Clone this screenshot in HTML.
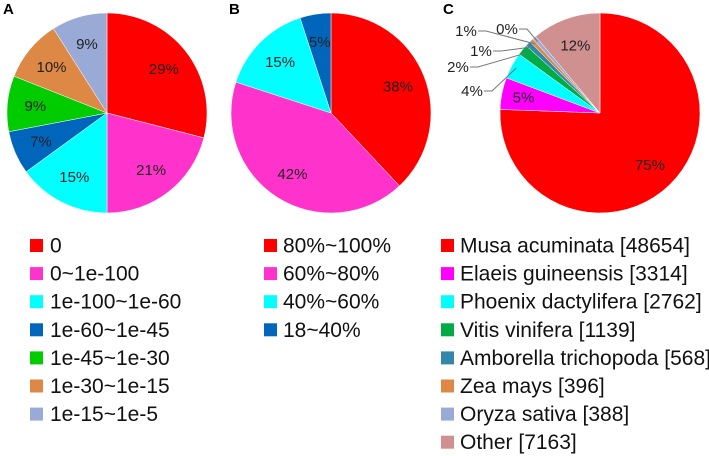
<!DOCTYPE html>
<html><head><meta charset="utf-8">
<style>
body{margin:0;background:#fff;}
svg{display:block;font-family:"Liberation Sans",Arial,sans-serif;}
</style></head>
<body>
<svg id="chart" width="709" height="456" viewBox="0 0 709 456"></svg>
<script>
const catsA=["0","0~1e-100","1e-100~1e-60","1e-60~1e-45","1e-45~1e-30","1e-30~1e-15","1e-15~1e-5"];
const valsA=[29,21,15,7,9,10,9];
const colsA=["#ff0000","#ff33cc","#00ffff","#0066bb","#00cc00","#dd8844","#99aad6"];
const catsB=["80%~100%","60%~80%","40%~60%","18~40%"];
const valsB=[38,42,15,5];
const colsB=["#ff0000","#ff33cc","#00ffff","#0066bb"];
const catsC=["Musa acuminata [48654]","Elaeis guineensis [3314]","Phoenix dactylifera [2762]","Vitis vinifera [1139]","Amborella trichopoda [568]","Zea mays [396]","Oryza sativa [388]","Other [7163]"];
const valsC=[48654,3314,2762,1139,568,396,388,7163];
const labelsC=["75%","5%","4%","2%","1%","1%","0%","12%"];
const colsC=["#ff0000","#ff00ff","#00ffff","#00aa44","#3388aa","#dd8844","#99aad6","#d09090"];
const NS="http://www.w3.org/2000/svg";
const svg=document.getElementById('chart');
function mk(t,a,p){const e=document.createElementNS(NS,t);for(const k in a)e.setAttribute(k,a[k]);(p||svg).appendChild(e);return e;}
function pie(id,vals,cols,cx,cy,r){
  const g=mk('g',{});
  
  
  const tot=vals.reduce((a,b)=>a+b,0);
  let a0=0;const mids=[];
  vals.forEach((v,i)=>{
    const a1=a0+v/tot*2*Math.PI;
    const x0=cx+r*Math.sin(a0),y0=cy-r*Math.cos(a0),x1=cx+r*Math.sin(a1),y1=cy-r*Math.cos(a1);
    const large=(a1-a0)>Math.PI?1:0;
    const p=mk('path',{d:`M${cx},${cy}L${x0},${y0}A${r},${r} 0 ${large} 1 ${x1},${y1}Z`,fill:cols[i],stroke:'#fff','stroke-width':0.5},g);
    
    
    mids.push({m:(a0+a1)/2,pct:Math.round(v/tot*100)});
    a0=a1;
  });
  return mids;
}
function lbl(x,y,t){const e=mk('text',{x:x,y:y,'font-size':15,'text-anchor':'middle',fill:'#222'});e.textContent=t;
  
  return e;}
function pctLabels(mids,cx,cy,r,f){mids.forEach(d=>{lbl(cx+f*r*Math.sin(d.m),cy-f*r*Math.cos(d.m)+5,d.pct+'%');});}
const mA=pie('a',valsA,colsA,107,113,100);pctLabels(mA,107,113,100,0.72);
const mB=pie('b',valsB,colsB,331,113,100);pctLabels(mB,331,113,100,0.72);
const mC=pie('c',valsC,colsC,600,113,100);
[0,1,7].forEach(i=>{const d=mC[i];const f=i===1?0.78:0.72;lbl(600+f*100*Math.sin(d.m),113-f*100*Math.cos(d.m)+5,labelsC[i]);});
const outPos={2:[472,96],3:[458,72],4:[481,56],5:[466,36],6:[507,34]};
[2,3,4,5,6].forEach(i=>{const d=mC[i];const ex=600+100*Math.sin(d.m)*0.95,ey=113-100*Math.cos(d.m)*0.95;
  const [lx,ly]=outPos[i];
  const ln=mk('polyline',{points:`${lx+12},${ly-5} ${lx+20},${ly-5} ${ex},${ey}`,fill:'none',stroke:'#777','stroke-width':1});
  
  
  lbl(lx,ly,labelsC[i]);});
[["A",3],["B",229],["C",443]].forEach(([t,x])=>{const e=mk('text',{x:x,y:14,'font-size':15,'font-weight':'bold'});e.textContent=t;
  
  });
function legend(id,cats,cols,sx,tx){cats.forEach((c,i)=>{const y=245+i*28.1;
  const g=mk('g',{});
  
  
  mk('rect',{x:sx,y:y-6,width:13,height:13,fill:cols[i]},g);
  const t=mk('text',{x:tx,y:y+7.5,'font-size':21,fill:'#111'},g);t.textContent=c;});}
legend('a',catsA,colsA,30,50);
legend('b',catsB,colsB,264,283);
legend('c',catsC,colsC,441,460);
</script>
</body></html>
